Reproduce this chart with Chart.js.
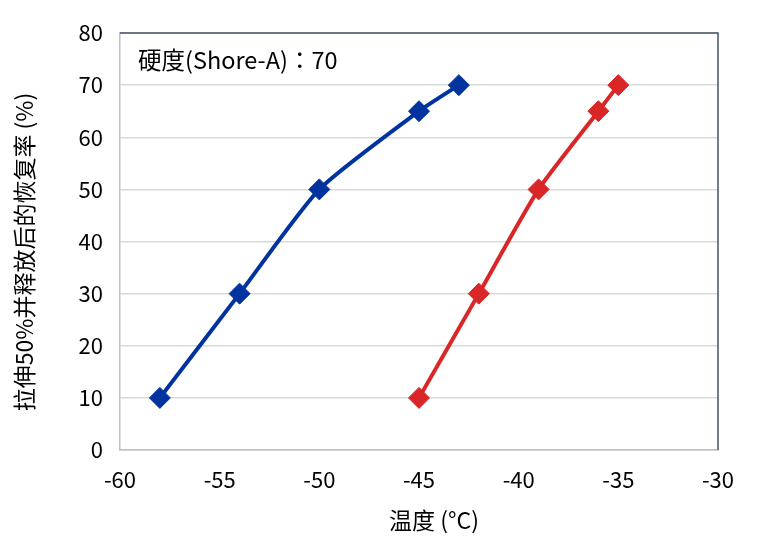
<!DOCTYPE html>
<html>
<head>
<meta charset="utf-8">
<script src="https://cdn.jsdelivr.net/npm/chart.js@4"></script>
<style>
html,body{margin:0;padding:0;background:#fff;}
#wrap{width:768px;height:556px;}
</style>
</head>
<body>
<div id="wrap"><canvas id="c" width="768" height="556"></canvas></div>
<script>
const blueTemps = [-58, -54, -50, -45, -43];
const blueValues = [10, 30, 50, 65, 70];
const redTemps = [-45, -42, -39, -36, -35];
const redValues = [10, 30, 50, 65, 70];
const xTitle = '温度 (°C)';
const yTitle = '拉伸50%并释放后的恢复率 (%)';
const noteText = '硬度(Shore-A)：70';

const FONT = "'Noto Sans CJK SC', 'Noto Sans', sans-serif";
const NOTE_FONT = "'Noto Sans CJK JP', 'Noto Sans CJK SC', sans-serif";

const toPts = (xs, ys) => xs.map((x, i) => ({x: x, y: ys[i]}));

const framePlugin = {
  id: 'frame',
  afterDraw(chart) {
    const {ctx, chartArea: a} = chart;
    ctx.save();
    ctx.strokeStyle = '#44546A';
    ctx.lineWidth = 1.5;
    ctx.beginPath();
    ctx.moveTo(a.left, a.top);
    ctx.lineTo(a.right, a.top);
    ctx.lineTo(a.right, a.bottom);
    ctx.stroke();
    ctx.fillStyle = '#000';
    ctx.textBaseline = 'middle';
    // note
    ctx.font = '23.5px ' + NOTE_FONT;
    ctx.textAlign = 'left';
    ctx.fillText(noteText, a.left + 18, a.top + 27);
    // x title
    ctx.font = '23px ' + FONT;
    ctx.textAlign = 'center';
    ctx.fillText(xTitle, 434, 520);
    // y title
    ctx.translate(24, 252);
    ctx.rotate(-Math.PI / 2);
    ctx.fillText(yTitle, 0, 0);
    ctx.restore();
  }
};

new Chart(document.getElementById('c'), {
  type: 'scatter',
  data: {
    datasets: [
      {
        data: toPts(blueTemps, blueValues),
        showLine: true,
        borderColor: '#0033A0',
        backgroundColor: '#0033A0',
        borderWidth: 4,
        tension: 0.2,
        pointStyle: 'rectRot',
        pointRadius: 10.5,
        pointHoverRadius: 10.5,
        pointBorderWidth: 1
      },
      {
        data: toPts(redTemps, redValues),
        showLine: true,
        borderColor: '#D92626',
        backgroundColor: '#D92626',
        borderWidth: 4,
        tension: 0.2,
        pointStyle: 'rectRot',
        pointRadius: 10.5,
        pointHoverRadius: 10.5,
        pointBorderWidth: 1
      }
    ]
  },
  options: {
    responsive: false,
    animation: false,
    devicePixelRatio: 1,
    layout: {padding: {left: 0, right: 50, top: 33, bottom: 0}},
    plugins: {legend: {display: false}, tooltip: {enabled: false}},
    scales: {
      x: {
        type: 'linear',
        min: -60, max: -30,
        ticks: {stepSize: 5, color: '#000', font: {family: FONT, size: 22}, padding: 16},
        grid: {display: false, drawTicks: false},
        border: {display: true, color: '#BFBFBF', width: 1.5},
        title: {display: false, text: xTitle},
        afterFit(s) { s.height = 106; }
      },
      y: {
        min: 0, max: 80,
        ticks: {stepSize: 10, color: '#000', font: {family: FONT, size: 22}, padding: 17},
        grid: {color: '#D9D9D9', lineWidth: 1.5, drawTicks: false},
        border: {display: true, color: '#BFBFBF', width: 1.5},
        title: {display: false, text: yTitle},
        afterFit(s) { s.width = 120; }
      }
    }
  },
  plugins: [framePlugin]
});
</script>
</body>
</html>
